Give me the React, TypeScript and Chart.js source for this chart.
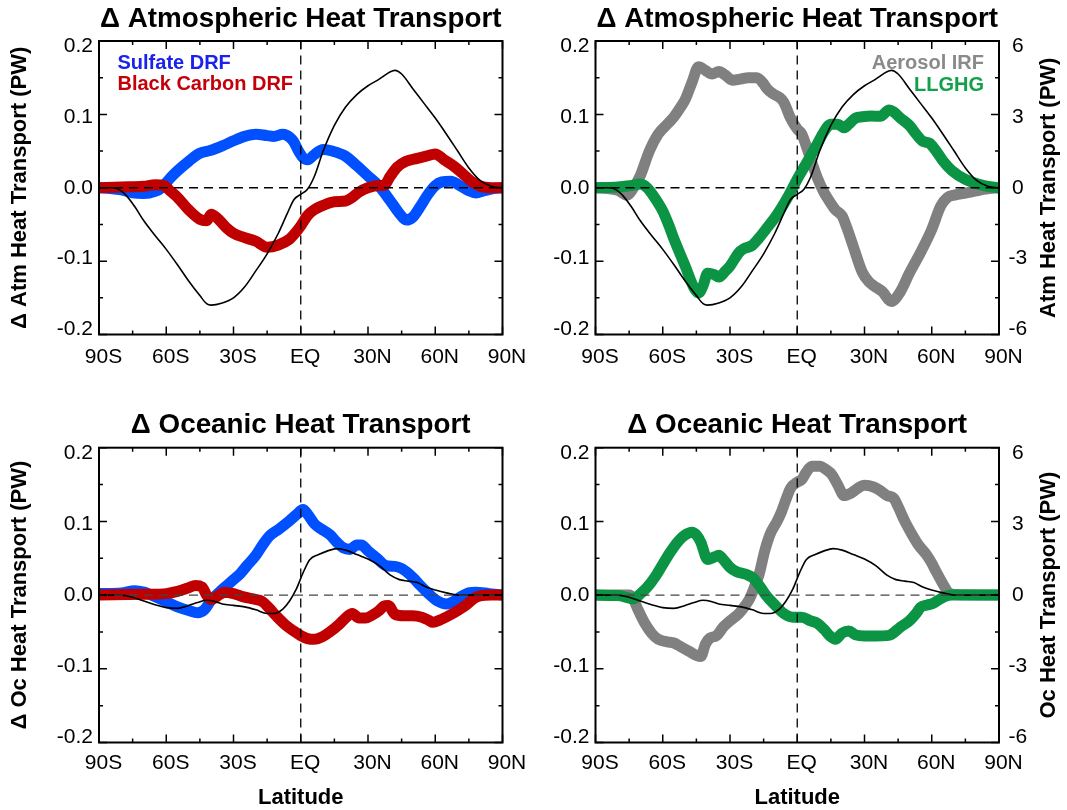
import React, { useEffect, useRef } from 'react';
import { Chart, registerables } from 'chart.js';

Chart.register(...registerables);

const FONT = '"Liberation Sans", Arial, Helvetica, sans-serif';

// ---------- tick labels ----------
const latTickValues = [-90, -60, -30, 0, 30, 60, 90];
const latTickLabels = ['90S', '60S', '30S', 'EQ', '30N', '60N', '90N'];
const leftTickValues = [-0.2, -0.1, 0, 0.1, 0.2];
const leftTickLabels = ['-0.2', '-0.1', '0.0', '0.1', '0.2'];
const rightTickValues = [-6, -3, 0, 3, 6];
const rightTickLabels = ['-6', '-3', '0', '3', '6'];

// ---------- series names ----------
const nameSulfate = 'Sulfate DRF';
const nameBC = 'Black Carbon DRF';
const nameAerosol = 'Aerosol IRF';
const nameGHG = 'LLGHG';

// ---------- atmospheric heat transport ----------
const atmTotalLat = [-90, -85, -82, -78, -74, -70, -65, -60, -55, -50, -45, -42, -40, -35, -30, -25, -20, -15, -10, -6, -3, 0, 3, 6, 10, 15, 20, 25, 30, 35, 40, 42, 45, 50, 55, 60, 65, 70, 75, 80, 85, 90];
const atmTotal = [0, 0, -0.001, -0.01, -0.026, -0.045, -0.065, -0.084, -0.105, -0.127, -0.147, -0.158, -0.16, -0.157, -0.15, -0.135, -0.113, -0.09, -0.062, -0.035, -0.016, -0.009, -0.002, 0.015, 0.05, 0.085, 0.11, 0.127, 0.139, 0.148, 0.158, 0.16, 0.155, 0.135, 0.115, 0.095, 0.073, 0.05, 0.027, 0.01, 0.002, 0];

const atmSulfateLat = [-90, -85, -80, -75, -70, -65, -62, -58, -55, -50, -45, -40, -35, -30, -25, -20, -15, -12, -8, -5, -3, -1, 1, 3, 6, 10, 14, 20, 25, 30, 35, 40, 44, 47, 50, 53, 57, 60, 63, 67, 71, 75, 78, 82, 86, 90];
const atmSulfate = [0, -0.001, -0.003, -0.007, -0.008, -0.005, 0, 0.014, 0.023, 0.036, 0.047, 0.051, 0.057, 0.064, 0.07, 0.073, 0.071, 0.07, 0.073, 0.069, 0.062, 0.05, 0.041, 0.038, 0.045, 0.052, 0.05, 0.043, 0.03, 0.016, 0.002, -0.018, -0.035, -0.044, -0.04, -0.027, -0.008, 0.003, 0.008, 0.009, 0.003, -0.004, -0.007, -0.004, -0.001, 0];

const atmBCLat = [-90, -80, -70, -65, -61, -58, -55, -50, -45, -42, -40, -37, -33, -30, -25, -20, -15, -10, -5, -2, 0, 3, 6, 10, 15, 20, 23, 26, 30, 35, 37, 40, 43, 47, 52, 56, 60, 64, 68, 72, 76, 80, 85, 90];
const atmBC = [0, 0.001, 0.002, 0.004, 0.003, -0.005, -0.013, -0.03, -0.043, -0.045, -0.036, -0.042, -0.055, -0.062, -0.068, -0.073, -0.081, -0.078, -0.07, -0.06, -0.052, -0.038, -0.03, -0.024, -0.019, -0.018, -0.013, -0.006, 0, 0.003, 0.003, 0.016, 0.028, 0.036, 0.04, 0.043, 0.046, 0.038, 0.03, 0.02, 0.009, 0.002, 0, 0];

const atmAerosolLat = [-90, -80, -76, -73, -70, -66, -62, -58, -55, -52, -50, -47, -44, -41, -38, -35, -32, -29, -25, -22, -18, -15, -13.5, -11, -8, -6, -3, 0, 2, 5.5, 9, 12, 14, 17, 20, 22, 25, 29, 32, 34, 38, 42, 46, 50, 55, 60, 64, 67, 70, 76, 84, 90];
const atmAerosol = [0, -0.1, -0.3, 0, 0.5, 1.5, 2.2, 2.6, 2.9, 3.3, 3.6, 4.3, 4.95, 4.8, 4.65, 4.75, 4.6, 4.4, 4.45, 4.5, 4.5, 4.25, 4.05, 3.85, 3.7, 3.5, 2.85, 2.4, 2.2, 1.3, 0.4, -0.2, -0.5, -0.9, -1.15, -1.6, -2.4, -3.45, -3.85, -4.0, -4.25, -4.65, -4.25, -3.5, -2.65, -1.7, -0.75, -0.4, -0.3, -0.2, -0.05, 0];

const atmGHGLat = [-90, -80, -75, -70, -67, -64, -60, -57, -55, -50, -46, -44, -42, -40, -37, -35, -32, -30, -26, -24, -20, -17, -14, -9, -4, 0, 5, 9, 12, 15, 18, 21, 23, 26, 29, 33, 37, 41, 43, 46, 50, 53, 56, 59, 62, 65, 69, 75, 81, 86, 90];
const atmGHG = [0, 0.03, 0.08, 0.15, 0.0, -0.35, -0.95, -1.6, -2.1, -3.2, -4.1, -4.3, -4.0, -3.5, -3.55, -3.65, -3.4, -3.2, -2.65, -2.5, -2.35, -2.05, -1.7, -1.1, -0.35, 0.35, 1.15, 1.8, 2.3, 2.6, 2.6, 2.45, 2.6, 2.85, 2.9, 2.93, 2.92, 3.18, 3.1, 2.85, 2.55, 2.2, 1.9, 1.82, 1.5, 1.1, 0.7, 0.34, 0.14, 0.04, 0];

// ---------- oceanic heat transport ----------
const ocnTotalLat = [-90, -80, -75, -70, -65, -60, -55, -50, -46, -42, -38, -35, -30, -25, -20, -15, -12, -8, -5, -2, 1, 4, 8, 12, 16, 20, 25, 30, 35, 40, 44, 48, 52, 56, 60, 65, 70, 90];
const ocnTotal = [0, 0, -0.003, -0.008, -0.013, -0.017, -0.018, -0.014, -0.01, -0.007, -0.009, -0.012, -0.014, -0.016, -0.02, -0.025, -0.025, -0.019, -0.008, 0.008, 0.03, 0.048, 0.055, 0.06, 0.063, 0.061, 0.055, 0.049, 0.04, 0.027, 0.021, 0.019, 0.017, 0.011, 0.007, 0.003, 0, 0];

const ocnSulfateLat = [-90, -80, -74, -70, -65, -60, -55, -50, -46, -43, -40, -36, -33, -30, -27, -24, -20, -17, -14, -10, -5, -2, 1, 3, 6, 9, 13, 16, 19, 22, 25, 27, 30, 34, 38, 42, 45, 50, 53, 57, 61, 65, 68, 71, 75, 78, 84, 90];
const ocnSulfate = [0.002, 0.003, 0.006, 0.004, -0.002, -0.009, -0.016, -0.021, -0.024, -0.02, -0.007, 0.005, 0.013, 0.021, 0.029, 0.04, 0.054, 0.068, 0.08, 0.089, 0.101, 0.109, 0.116, 0.11, 0.097, 0.09, 0.082, 0.072, 0.064, 0.062, 0.068, 0.068, 0.06, 0.05, 0.04, 0.039, 0.036, 0.024, 0.014, 0.002, -0.008, -0.012, -0.009, -0.003, 0.003, 0.004, 0.002, 0];

const ocnBCLat = [-90, -70, -60, -55, -50, -47, -44, -42, -40, -37, -34, -30, -26, -20, -17, -14, -11, -7, -3, 0, 3, 6, 10, 13, 17, 20, 23, 26, 29, 32, 35, 37, 39, 42, 46, 50, 54, 57, 59, 62, 66, 70, 74, 77, 80, 85, 90];
const ocnBC = [0, 0.001, 0.002, 0.005, 0.01, 0.013, 0.011, 0.0, -0.006, -0.001, 0.004, 0.002, -0.002, -0.006, -0.009, -0.018, -0.028, -0.04, -0.049, -0.055, -0.059, -0.06, -0.056, -0.05, -0.04, -0.031, -0.025, -0.031, -0.031, -0.027, -0.021, -0.015, -0.014, -0.026, -0.028, -0.028, -0.03, -0.034, -0.037, -0.034, -0.028, -0.021, -0.013, -0.005, -0.001, 0, 0];

const ocnAerosolLat = [-90, -75, -73.5, -71, -68, -65, -62, -58, -55, -52, -48, -45, -43, -41, -39, -36, -33, -30, -26, -23, -21, -19, -17, -14.5, -12, -9, -7, -5, -3, 0, 2, 4, 6.5, 10, 13, 15.5, 18, 21, 24, 27, 30, 34, 37, 40, 43, 45, 48, 51, 54, 58, 60, 62, 65, 67, 70, 90];
const ocnAerosol = [0, 0, -0.1, -0.6, -1.15, -1.55, -1.8, -1.9, -1.95, -2.1, -2.3, -2.45, -2.5, -2.0, -1.75, -1.65, -1.3, -1.05, -0.75, -0.4, -0.1, 0.35, 0.85, 1.8, 2.5, 3.0, 3.4, 3.9, 4.35, 4.6, 4.7, 5.0, 5.25, 5.25, 5.1, 4.9, 4.5, 4.05, 4.15, 4.35, 4.47, 4.4, 4.25, 4.05, 3.95, 3.6, 3.0, 2.5, 2.05, 1.6, 1.3, 0.95, 0.45, 0.15, 0.02, 0];

const ocnGHGLat = [-90, -80, -75, -73, -70, -67, -63, -60, -57, -53, -50, -47, -45, -43, -40, -37, -35, -33, -30, -27, -23, -20, -17, -14, -10, -6, -2, 2, 6, 9, 12, 15, 17, 20, 23, 26, 30, 35, 40, 42, 46, 50, 53, 55, 58, 60, 63, 66, 69, 90];
const ocnGHG = [0, -0.02, -0.12, -0.15, 0.05, 0.31, 0.8, 1.25, 1.7, 2.2, 2.45, 2.56, 2.45, 2.15, 1.45, 1.55, 1.62, 1.45, 1.13, 0.95, 0.85, 0.72, 0.4, 0.0, -0.4, -0.75, -0.9, -0.9, -1.05, -1.15, -1.4, -1.7, -1.8, -1.55, -1.46, -1.62, -1.66, -1.66, -1.65, -1.6, -1.3, -1.05, -0.75, -0.5, -0.4, -0.36, -0.2, -0.05, 0, 0];

// ---------- styles ----------
const BLUE = '#0050ff';
const RED = '#c00000';
const GRAY = '#808080';
const GREEN = '#0b9444';
const BLUE_TXT = '#1a22ee';
const RED_TXT = '#c4000a';
const GRAY_TXT = '#8a8a8a';
const GREEN_TXT = '#12a04a';
const THICK = 11;

type Series = { label: string; lat: number[]; val: number[]; color: string; width: number; axis: string; order: number };
type LegendItem = { text: string; color: string };
type PanelCfg = {
  x: number; y: number; w: number; h: number;
  area: { l: number; r: number; t: number; b: number };
  title: string; titlePadTop: number;
  yTitle?: string; rightTitle?: string; latitude: boolean; right: boolean;
  xPad: number; zeroColor: string;
  series: Series[];
  legend: { items: LegendItem[]; align: 'left' | 'right'; x: number; y: number[] };
};

const pts = (lat: number[], val: number[]) => lat.map((x, i) => ({ x, y: val[i] }));

const frameTicksPlugin = {
  id: 'frameTicks',
  afterDatasetsDraw(chart: any) {
    const { ctx, chartArea: a, scales } = chart;
    const xs = scales.x;
    const ys = scales.y;
    ctx.save();
    ctx.strokeStyle = '#000';
    ctx.lineWidth = 1.5;
    ctx.beginPath();
    for (let i = -6; i <= 6; i++) {
      const px = xs.getPixelForValue(i * 15);
      const len = i % 2 === 0 ? 8 : 4;
      ctx.moveTo(px, a.bottom); ctx.lineTo(px, a.bottom - len);
      ctx.moveTo(px, a.top); ctx.lineTo(px, a.top + len);
    }
    for (let i = -4; i <= 4; i++) {
      const py = ys.getPixelForValue(i * 0.05);
      const len = i % 2 === 0 ? 8 : 4;
      ctx.moveTo(a.left, py); ctx.lineTo(a.left + len, py);
      ctx.moveTo(a.right, py); ctx.lineTo(a.right - len, py);
    }
    ctx.stroke();
    ctx.lineWidth = 2;
    ctx.strokeRect(a.left, a.top, a.right - a.left, a.bottom - a.top);
    ctx.restore();
  },
};

const panelTextPlugin = {
  id: 'panelText',
  afterDraw(chart: any, _args: any, opts: any) {
    const ctx = chart.ctx;
    const a = chart.chartArea;
    ctx.save();
    const lg = opts.legend;
    if (lg) {
      ctx.font = `bold 20px ${FONT}`;
      ctx.textAlign = lg.align;
      ctx.textBaseline = 'alphabetic';
      lg.items.forEach((it: LegendItem, i: number) => {
        ctx.fillStyle = it.color;
        ctx.fillText(it.text, lg.x, lg.y[i]);
      });
    }
    if (opts.rightTitle) {
      ctx.font = `bold 22px ${FONT}`;
      ctx.fillStyle = '#000';
      ctx.textAlign = 'center';
      ctx.textBaseline = 'middle';
      ctx.translate(opts.rightTitleX, (a.top + a.bottom) / 2);
      ctx.rotate(-Math.PI / 2);
      ctx.fillText(opts.rightTitle, 0, 0);
    }
    ctx.restore();
  },
};

function buildConfig(p: PanelCfg): any {
  const a = p.area;
  const localL = a.l - p.x;
  const localR = a.r - p.x;
  const localT = a.t - p.y;
  const titleSize = 27.8;
  const titleLH = titleSize * 1.2;

  const datasets: any[] = [
    {
      label: 'zero', data: [{ x: -90, y: 0 }, { x: 90, y: 0 }], borderColor: p.zeroColor,
      borderWidth: 1.3, borderDash: [9, 6], pointRadius: 0, order: 0, yAxisID: 'y', clip: 0,
    },
    {
      label: 'eq', data: [{ x: 0, y: -0.2 }, { x: 0, y: 0.2 }], borderColor: '#000',
      borderWidth: 1.3, borderDash: [9, 6], pointRadius: 0, order: 0, yAxisID: 'y', clip: 0,
    },
  ];
  p.series.forEach((s) => {
    datasets.push({
      label: s.label, data: pts(s.lat, s.val), borderColor: s.color, borderWidth: s.width,
      pointRadius: 0, order: s.order, yAxisID: s.axis, cubicInterpolationMode: 'monotone',
      borderJoinStyle: 'round', borderCapStyle: 'butt', clip: 0,
    });
  });

  const tickFont = { family: FONT, size: 21 };
  const noGrid = { display: false, drawTicks: false };
  const scales: any = {
    x: {
      type: 'linear', min: -90, max: 90, position: 'bottom',
      grid: noGrid, border: { display: false },
      afterBuildTicks: (s: any) => { s.ticks = latTickValues.map((v) => ({ value: v })); },
      afterFit: (s: any) => { s.height = p.y + p.h - a.b; },
      ticks: {
        autoSkip: false, maxRotation: 0, minRotation: 0, labelOffset: 4.5, padding: p.xPad,
        color: '#000', font: tickFont,
        callback: (_v: any, i: number) => latTickLabels[i],
      },
      title: p.latitude
        ? { display: true, text: 'Latitude', color: '#000', font: { family: FONT, size: 22, weight: 'bold', lineHeight: 1 }, padding: { top: 0, bottom: 1 } }
        : { display: false },
    },
    y: { type: 'linear', display: false, min: -0.2, max: 0.2, position: 'left' },
    yl: {
      type: 'linear', position: 'left', min: -0.2076, max: 0.2076,
      grid: noGrid, border: { display: false },
      afterBuildTicks: (s: any) => { s.ticks = leftTickValues.map((v) => ({ value: v })); },
      afterFit: (s: any) => { s.width = localL; },
      ticks: { padding: 6, color: '#000', font: tickFont, callback: (_v: any, i: number) => leftTickLabels[i] },
      title: p.yTitle
        ? { display: true, text: p.yTitle, color: '#000', font: { family: FONT, size: 22, weight: 'bold' }, padding: { top: 6.9, bottom: 0 } }
        : { display: false },
    },
  };
  if (p.right) {
    scales.y2 = { type: 'linear', display: false, min: -6, max: 6, position: 'right' };
    scales.yr = {
      type: 'linear', position: 'right', min: -6.231, max: 6.231,
      grid: noGrid, border: { display: false },
      afterBuildTicks: (s: any) => { s.ticks = rightTickValues.map((v) => ({ value: v })); },
      afterFit: (s: any) => { s.width = p.w - localR; },
      ticks: { padding: 9.6, crossAlign: 'center', color: '#000', font: tickFont, callback: (_v: any, i: number) => rightTickLabels[i] },
    };
  }

  return {
    type: 'line',
    data: { datasets },
    options: {
      responsive: false,
      animation: false,
      devicePixelRatio: 1,
      layout: { padding: { left: 0, top: 0, bottom: 0, right: p.right ? 0 : p.w - localR } },
      scales,
      plugins: {
        legend: { display: false },
        tooltip: { enabled: false },
        title: {
          display: true, text: p.title, color: '#000', fullSize: false,
          font: { family: FONT, size: titleSize, weight: 'bold', lineHeight: 1.2 },
          padding: { top: p.titlePadTop, bottom: localT - p.titlePadTop - titleLH },
        },
        panelText: {
          legend: {
            items: p.legend.items, align: p.legend.align,
            x: p.legend.x - p.x, y: p.legend.y.map((v) => v - p.y),
          },
          rightTitle: p.rightTitle, rightTitleX: 1048.5 - p.x,
        },
      },
    },
    plugins: [frameTicksPlugin, panelTextPlugin],
  };
}

const TOP_AREA = { t: 41, b: 334.5 };
const BOT_AREA = { t: 447.7, b: 742.5 };
const LEFT_AREA = { l: 99, r: 502.5 };
const RIGHT_AREA = { l: 595.5, r: 999 };

const panels: PanelCfg[] = [
  {
    x: 0, y: 0, w: 548, h: 400, area: { ...LEFT_AREA, ...TOP_AREA },
    title: 'Δ Atmospheric Heat Transport', titlePadTop: 2.2,
    yTitle: 'Δ Atm Heat Transport (PW)', latitude: false, right: false, xPad: 10.4, zeroColor: '#000',
    series: [
      { label: nameSulfate, lat: atmSulfateLat, val: atmSulfate, color: BLUE, width: THICK, axis: 'y', order: 3 },
      { label: nameBC, lat: atmBCLat, val: atmBC, color: RED, width: THICK, axis: 'y', order: 2 },
      { label: 'total', lat: atmTotalLat, val: atmTotal, color: '#000', width: 1.6, axis: 'y', order: 1 },
    ],
    legend: { items: [{ text: nameSulfate, color: BLUE_TXT }, { text: nameBC, color: RED_TXT }], align: 'left', x: 117.5, y: [69.3, 90] },
  },
  {
    x: 548, y: 0, w: 519, h: 400, area: { ...RIGHT_AREA, ...TOP_AREA },
    title: 'Δ Atmospheric Heat Transport', titlePadTop: 2.2,
    rightTitle: 'Atm Heat Transport (PW)', latitude: false, right: true, xPad: 10.4, zeroColor: '#000',
    series: [
      { label: nameAerosol, lat: atmAerosolLat, val: atmAerosol, color: GRAY, width: THICK, axis: 'y2', order: 3 },
      { label: nameGHG, lat: atmGHGLat, val: atmGHG, color: GREEN, width: THICK, axis: 'y2', order: 2 },
      { label: 'total', lat: atmTotalLat, val: atmTotal, color: '#000', width: 1.6, axis: 'y', order: 1 },
    ],
    legend: { items: [{ text: nameAerosol, color: GRAY_TXT }, { text: nameGHG, color: GREEN_TXT }], align: 'right', x: 984, y: [68.5, 90.5] },
  },
  {
    x: 0, y: 400, w: 548, h: 410, area: { ...LEFT_AREA, ...BOT_AREA },
    title: 'Δ Oceanic Heat Transport', titlePadTop: 8.7,
    yTitle: 'Δ Oc Heat Transport (PW)', latitude: true, right: false, xPad: 7.9, zeroColor: '#444',
    series: [
      { label: nameSulfate, lat: ocnSulfateLat, val: ocnSulfate, color: BLUE, width: THICK, axis: 'y', order: 3 },
      { label: nameBC, lat: ocnBCLat, val: ocnBC, color: RED, width: THICK, axis: 'y', order: 2 },
      { label: 'total', lat: ocnTotalLat, val: ocnTotal, color: '#000', width: 1.6, axis: 'y', order: 1 },
    ],
    legend: { items: [], align: 'left', x: 0, y: [] },
  },
  {
    x: 548, y: 400, w: 519, h: 410, area: { ...RIGHT_AREA, ...BOT_AREA },
    title: 'Δ Oceanic Heat Transport', titlePadTop: 8.7,
    rightTitle: 'Oc Heat Transport (PW)', latitude: true, right: true, xPad: 7.9, zeroColor: '#444',
    series: [
      { label: nameAerosol, lat: ocnAerosolLat, val: ocnAerosol, color: GRAY, width: THICK, axis: 'y2', order: 3 },
      { label: nameGHG, lat: ocnGHGLat, val: ocnGHG, color: GREEN, width: THICK, axis: 'y2', order: 2 },
      { label: 'total', lat: ocnTotalLat, val: ocnTotal, color: '#000', width: 1.6, axis: 'y', order: 1 },
    ],
    legend: { items: [], align: 'right', x: 0, y: [] },
  },
];

function Panel({ cfg }: { cfg: PanelCfg }) {
  const ref = useRef<HTMLCanvasElement>(null);
  useEffect(() => {
    if (!ref.current) return;
    const chart = new Chart(ref.current, buildConfig(cfg));
    return () => chart.destroy();
  }, [cfg]);
  return (
    <canvas
      ref={ref}
      width={cfg.w}
      height={cfg.h}
      style={{ position: 'absolute', left: cfg.x, top: cfg.y, width: cfg.w, height: cfg.h }}
    />
  );
}

export default function App() {
  return (
    <div style={{ position: 'absolute', left: 0, top: 0, width: 1067, height: 810, background: '#fff' }}>
      {panels.map((p, i) => (
        <Panel key={i} cfg={p} />
      ))}
    </div>
  );
}
